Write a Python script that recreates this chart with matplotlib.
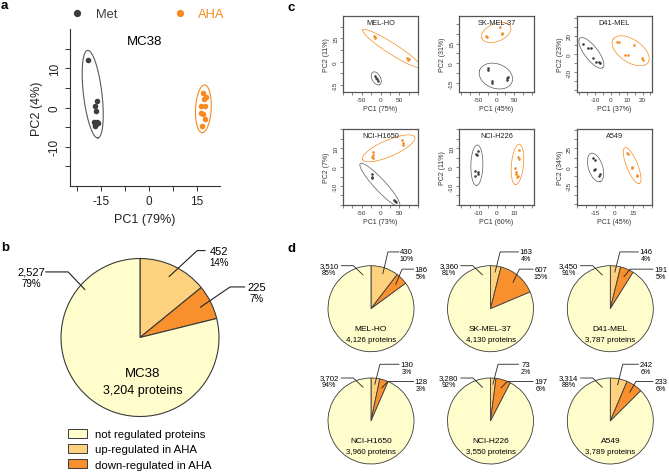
import numpy as np
import matplotlib
matplotlib.use('Agg')
import matplotlib.pyplot as plt
from matplotlib.patches import Patch
from matplotlib.lines import Line2D

plt.rcParams['font.family'] = ['Liberation Sans', 'DejaVu Sans']
plt.rcParams['axes.unicode_minus'] = False

# ------------------------------------------------------------------ data
# panel a : MC38 PCA
mc38_met_x = [-19.3, -16.3, -17.0, -16.5, -17.4, -16.2, -16.8, -16.0, -16.9]
mc38_met_y = [12.2, 1.6, 0.3, -1.0, -3.6, -3.7, -4.5, -4.0, -4.8]
mc38_aha_x = [16.9, 17.9, 17.2, 16.3, 17.5, 16.2, 16.9, 17.6, 16.5]
mc38_aha_y = [3.6, 2.8, 2.2, 0.5, 0.4, -1.3, -1.7, -3.0, -4.6]

# panel b : MC38 pie
mc38_counts = [2527, 452, 225]          # not, up, down
mc38_pcts = [79, 14, 7]

# panel c : PCA per cell line
melho_met_x = [-14, -12, -10, -8]
melho_met_y = [-9.5, -10.5, -11.3, -12.2]
melho_aha_x = [-18, -16, -15, 70, 73, 76]
melho_aha_y = [16.5, 15.0, 16.0, 2.4, 1.2, 2.0]

skmel_met_x = [-24.5, -24.0, -12.8, -12.0, 30.0, 30.7, 31.0]
skmel_met_y = [-4.9, -4.0, -13.4, -15.0, -11.3, -12.8, -10.5]
skmel_aha_x = [-29, -28, 11, 15, 16]
skmel_aha_y = [21, 20, 27.7, 23, 22]

d41_met_x = [-17.6, -14.4, -12.9, -11.5, -9.2, -7.7, -7.0]
d41_met_y = [11, 7, 6.5, -4.8, -8.9, -8.5, -9.5]
d41_aha_x = [4, 5, 14.7, 9, 10.6, 19.6, 20.6]
d41_aha_y = [13.3, 13.3, 10, -1.4, -1.4, -4.8, -6.9]

h1650_met_x = [-23, -22, -23, 36, 41, 38]
h1650_met_y = [-3.9, -5.1, -5.8, -17.2, -18.4, -17.8]
h1650_aha_x = [-21, -21, -22, -21, 57, 61, 61]
h1650_aha_y = [7.7, 6.4, 5.5, 4.9, 14.4, 12.6, 11.5]

h226_met_x = [-10.5, -11.0, -11.5, -11.8, -10.6, -11.8, -10.2]
h226_met_y = [8.5, 6.4, 7.0, -2.1, -3.5, -4.8, -2.5]
h226_aha_x = [12.8, 12.3, 12.8, 10.6, 11.0, 10.8, 11.4, 11.8]
h226_aha_y = [9.0, 5.3, 4.0, -0.4, -2.4, -3.8, -5.2, -4.5]

a549_met_x = [-17.2, -15.3, -16.7, -15.5, -11.9, -12.3]
a549_met_y = [12.3, 9.0, -4.5, -3.0, -10.0, -12.3]
a549_aha_x = [9.8, 10.8, 13.7, 14.3, 17.7, 18.2]
a549_aha_y = [18.2, 18.0, -0.9, -0.2, -11.4, -12.5]

cell_lines = ['MEL-HO', 'SK-MEL-37', 'D41-MEL', 'NCI-H1650', 'NCI-H226', 'A549']
pc1_var = [75, 45, 37, 73, 60, 45]
pc2_var = [11, 31, 23, 7, 11, 34]

# panel d : pies per cell line
not_regulated = [3510, 3360, 3450, 3702, 3280, 3314]
up_regulated = [430, 163, 146, 130, 73, 242]
down_regulated = [186, 607, 191, 128, 197, 233]
not_pct = [85, 81, 91, 94, 92, 88]
up_pct = [10, 4, 4, 3, 2, 6]
down_pct = [5, 15, 5, 3, 6, 6]

# axis ranges & ticks for c panels
c_xlims = [(-100, 100), (-105, 105), (-21.5, 26), (-100, 100), (-21, 21), (-30, 30)]
c_ylims = [(-19.5, 29.5), (-22, 36), (-42, 42), (-20, 20), (-20, 20), (-51, 51)]
c_xticks_lab = [[-50, 0, 50], [-50, 0, 50], [-10, 0, 10, 20], [-50, 0, 50], [-10, 0, 10], [-15, 0, 15]]
c_xticks_step = [25, 25, 5, 25, 5, 7.5]
c_yticks_lab = [[-15, 0, 15], [-15, 0, 15], [-20, 0, 20], [-10, 0, 10], [-10, 0, 10], [-25, 0, 25]]
c_yticks_step = [7.5, 7.5, 10, 5, 5, 12.5]

# ------------------------------------------------------------------ style
W, H = 669, 477
fig = plt.figure(figsize=(W / 100, H / 100), dpi=100)

MET_COLOR = '#3d3d3d'
MET_ELL = '#5a5a5a'
AHA_COLOR = '#f7891f'
PIE_NOT, PIE_UP, PIE_DOWN = '#fffdcc', '#fdd17e', '#f7902d'
EDGE = '#3a3a3a'
AX_COL = '#333333'


def box(l, t, w, h):
    return [l / W, 1 - (t + h) / H, w / W, h / H]


def mvee(P, tol=1e-6):
    N, d = P.shape
    Q = np.vstack([P.T, np.ones(N)])
    u = np.ones(N) / N
    err = 1.0
    it = 0
    while err > tol and it < 5000:
        X = Q @ np.diag(u) @ Q.T
        M = np.einsum('ij,ji->i', Q.T @ np.linalg.inv(X), Q)
        j = np.argmax(M)
        mx = M[j]
        step = (mx - d - 1) / ((d + 1) * (mx - 1))
        nu = (1 - step) * u
        nu[j] += step
        err = np.linalg.norm(nu - u)
        u = nu
        it += 1
    c = P.T @ u
    A = np.linalg.inv(P.T @ np.diag(u) @ P - np.outer(c, c)) / d
    return A, c


def enclosing_ellipse(x, y, xlim, ylim, size_px, pad_px, scale=1.05):
    wpx, hpx = size_px
    sx = wpx / (xlim[1] - xlim[0])
    sy = hpx / (ylim[1] - ylim[0])
    P = np.column_stack([np.asarray(x, float) * sx, np.asarray(y, float) * sy])
    A, c = mvee(P)
    vals, vecs = np.linalg.eigh(A)
    radii = scale / np.sqrt(vals) + pad_px
    t = np.linspace(0, 2 * np.pi, 200)
    pts = c[:, None] + vecs @ (radii[:, None] * np.vstack([np.cos(t), np.sin(t)]))
    return pts[0] / sx, pts[1] / sy


# ------------------------------------------------------------------ panel a
ax_px = (150, 157)
axa = fig.add_axes(box(70, 30, *ax_px))
xlim_a, ylim_a = (-24.8, 22.3), (-20, 20)
axa.scatter(mc38_met_x, mc38_met_y, s=16, color=MET_COLOR, lw=0, zorder=3)
axa.scatter(mc38_aha_x, mc38_aha_y, s=16, color=AHA_COLOR, lw=0, zorder=3)
ex, ey = enclosing_ellipse(mc38_met_x, mc38_met_y, xlim_a, ylim_a, ax_px, 5.5)
axa.plot(ex, ey, color=MET_ELL, lw=0.8)
ex, ey = enclosing_ellipse(mc38_aha_x, mc38_aha_y, xlim_a, ylim_a, ax_px, 5.0)
axa.plot(ex, ey, color=AHA_COLOR, lw=0.8)
axa.set_xlim(xlim_a)
axa.set_ylim(ylim_a)
axa.set_xticks([-15, 0, 15])
axa.set_xticks([-22.5, -7.5, 7.5], minor=True)
axa.set_yticks([-10, 0, 10])
axa.set_yticks([-15, -5, 5, 15], minor=True)
for s in ['top', 'right']:
    axa.spines[s].set_visible(False)
for s in ['left', 'bottom']:
    axa.spines[s].set_color(AX_COL)
    axa.spines[s].set_linewidth(0.8)
axa.tick_params(which='both', direction='out', length=3.5, width=0.7, color=AX_COL,
                labelsize=8.5, pad=3, labelcolor='#222222')
axa.tick_params(axis='y', labelrotation=90)
for t in axa.get_yticklabels():
    t.set_va('center')
axa.set_xlabel('PC1 (79%)', fontsize=9, labelpad=4, color='#222222')
axa.set_ylabel('PC2 (4%)', fontsize=9, labelpad=4, color='#222222')
axa.text(0.5, 0.925, 'MC38', transform=axa.transAxes, ha='center', va='center', fontsize=9.5)

leg = fig.legend(handles=[Line2D([], [], marker='o', ls='', color=MET_COLOR, ms=4.2, label='Met'),
                          Line2D([], [], marker='o', ls='', color=AHA_COLOR, ms=4.2, label='AHA')],
                 ncol=2, loc='center left', bbox_to_anchor=(71 / W, 1 - 15 / H), frameon=False,
                 fontsize=9.3, handlelength=1.0, handletextpad=0.9, columnspacing=4.4,
                 borderpad=0, borderaxespad=0)
leg.get_texts()[0].set_color(MET_COLOR)
leg.get_texts()[1].set_color(AHA_COLOR)


# ------------------------------------------------------------------ pies
LAYOUT_B = dict(not_ang=139, not_r=0.92, not_elbow=(-0.91, 0.83), not_end=-1.2, not_tx=-1.38,
                up_r=0.85, up_dx=0.36, up_y=1.1, up_end=0.83, up_tx=1.0,
                down_r=0.85, down_dx=0.38, down_y=0.64, down_end=1.33, down_tx=1.48,
                pct_dy=0.14, name_xy=(0.03, -0.45), tot_xy=(0.03, -0.66))
LAYOUT_D = dict(not_ang=103, not_r=0.8, not_elbow=(-0.41, 1.0), not_end=-0.7, not_tx=-0.97,
                up_r=0.85, up_dx=0.12, up_y=1.32, up_end=0.66, up_tx=0.83,
                down_r=0.8, down_dx=0.15, down_y=0.92, down_end=1.0, down_tx=1.17,
                pct_dy=0.16, name_xy=(0.0, -0.46), tot_xy=(0.0, -0.71))


def draw_pie(ax, counts, pcts, name, lay, fs_num, fs_pct, fs_name, lw, llw):
    n_not, n_up, n_down = counts
    vals = [n_up, n_down, n_not]
    wedges, _ = ax.pie(vals, colors=[PIE_UP, PIE_DOWN, PIE_NOT], startangle=90,
                       counterclock=False, radius=1,
                       wedgeprops=dict(edgecolor=EDGE, linewidth=lw))
    for w in wedges:
        w.set_clip_on(False)
    ax.set_xlim(-1, 1)
    ax.set_ylim(-1, 1)
    frac = np.array(vals, float) / sum(vals)
    starts = 90 - 360 * np.concatenate([[0], np.cumsum(frac)[:-1]])
    mids = np.radians(starts - 180 * frac)
    kw = dict(color='#222222', lw=llw, clip_on=False, solid_capstyle='butt')

    # not regulated (left)
    a = np.radians(lay['not_ang'])
    ax0, ay0 = lay['not_r'] * np.cos(a), lay['not_r'] * np.sin(a)
    exx, eyy = lay['not_elbow']
    ax.plot([ax0, exx, lay['not_end']], [ay0, eyy, eyy], **kw)
    ax.text(lay['not_tx'], eyy, f'{n_not:,}', ha='center', va='center', fontsize=fs_num)
    ax.text(lay['not_tx'], eyy - lay['pct_dy'], f'{pcts[0]}%', ha='center', va='center',
            fontsize=fs_pct)

    # up regulated
    ax0, ay0 = lay['up_r'] * np.cos(mids[0]), lay['up_r'] * np.sin(mids[0])
    exx = ax0 + lay['up_dx']
    ax.plot([ax0, exx, lay['up_end']], [ay0, lay['up_y'], lay['up_y']], **kw)
    ax.text(lay['up_tx'], lay['up_y'], f'{n_up:,}', ha='center', va='center', fontsize=fs_num)
    ax.text(lay['up_tx'], lay['up_y'] - lay['pct_dy'], f'{pcts[1]}%', ha='center', va='center',
            fontsize=fs_pct)

    # down regulated
    ax0, ay0 = lay['down_r'] * np.cos(mids[1]), lay['down_r'] * np.sin(mids[1])
    exx = ax0 + lay['down_dx']
    ax.plot([ax0, exx, lay['down_end']], [ay0, lay['down_y'], lay['down_y']], **kw)
    ax.text(lay['down_tx'], lay['down_y'], f'{n_down:,}', ha='center', va='center',
            fontsize=fs_num)
    ax.text(lay['down_tx'], lay['down_y'] - lay['pct_dy'], f'{pcts[2]}%', ha='center',
            va='center', fontsize=fs_pct)

    total = n_not + n_up + n_down
    ax.text(*lay['name_xy'], name, ha='center', va='center', fontsize=fs_name)
    ax.text(*lay['tot_xy'], f'{total:,} proteins', ha='center', va='center', fontsize=fs_name * 0.95)


# panel b
Rb = 79
axb = fig.add_axes(box(140 - Rb, 338.5 - Rb, 2 * Rb, 2 * Rb))
draw_pie(axb, mc38_counts, mc38_pcts, 'MC38', LAYOUT_B, 8, 7, 9.5, 0.8, 0.8)

fig.legend(handles=[Patch(fc=PIE_NOT, ec=EDGE, lw=0.7, label='not regulated proteins'),
                    Patch(fc=PIE_UP, ec=EDGE, lw=0.7, label='up-regulated in AHA'),
                    Patch(fc=PIE_DOWN, ec=EDGE, lw=0.7, label='down-regulated in AHA')],
           loc='upper left', bbox_to_anchor=(68 / W, 1 - 430 / H), frameon=False, fontsize=8.2,
           handlelength=1.7, handleheight=0.8, handletextpad=0.7, labelspacing=0.42,
           borderpad=0, borderaxespad=0)

# panel d
Rd = 43
d_cx = [371, 490.5, 610.3]
d_cy = [309.7, 422]
for i, name in enumerate(cell_lines):
    cx, cy = d_cx[i % 3], d_cy[i // 3]
    axd = fig.add_axes(box(cx - Rd, cy - Rd, 2 * Rd, 2 * Rd))
    draw_pie(axd, (not_regulated[i], up_regulated[i], down_regulated[i]),
             (not_pct[i], up_pct[i], down_pct[i]), name, LAYOUT_D, 5.6, 5.1, 6.0, 0.6, 0.6)

# ------------------------------------------------------------------ panel c
pca_sets = [
    (melho_met_x, melho_met_y, melho_aha_x, melho_aha_y),
    (skmel_met_x, skmel_met_y, skmel_aha_x, skmel_aha_y),
    (d41_met_x, d41_met_y, d41_aha_x, d41_aha_y),
    (h1650_met_x, h1650_met_y, h1650_aha_x, h1650_aha_y),
    (h226_met_x, h226_met_y, h226_aha_x, h226_aha_y),
    (a549_met_x, a549_met_y, a549_aha_x, a549_aha_y),
]
c_left = [343, 459, 577]
c_top = [17, 130]
c_size = (75, 76)


def fmt(v):
    return str(int(v)) if float(v).is_integer() else str(v)


for i, name in enumerate(cell_lines):
    ax = fig.add_axes(box(c_left[i % 3], c_top[i // 3], *c_size))
    mx, my, axx, ayy = pca_sets[i]
    xl, yl = c_xlims[i], c_ylims[i]
    ax.scatter(mx, my, s=3.5, color=MET_COLOR, lw=0, zorder=3)
    ax.scatter(axx, ayy, s=3.5, color=AHA_COLOR, lw=0, zorder=3)
    ex, ey = enclosing_ellipse(mx, my, xl, yl, c_size, 4.2)
    ax.plot(ex, ey, color=MET_ELL, lw=0.5)
    ex, ey = enclosing_ellipse(axx, ayy, xl, yl, c_size, 4.2)
    ax.plot(ex, ey, color=AHA_COLOR, lw=0.5)
    ax.set_xlim(xl)
    ax.set_ylim(yl)
    xs = c_xticks_step[i]
    xt = np.arange(np.ceil(xl[0] / xs) * xs, xl[1] + 1e-9, xs)
    ax.set_xticks(xt)
    ax.set_xticklabels([fmt(v) if v in c_xticks_lab[i] else '' for v in xt])
    ys = c_yticks_step[i]
    yt = np.arange(np.ceil(yl[0] / ys) * ys, yl[1] + 1e-9, ys)
    ax.set_yticks(yt)
    ax.set_yticklabels([fmt(v) if v in c_yticks_lab[i] else '' for v in yt])
    for s in ax.spines.values():
        s.set_color('#555555')
        s.set_linewidth(0.9)
    ax.tick_params(which='both', direction='out', length=2, width=0.5, color='#555555',
                   labelsize=4.6, pad=1.5, labelcolor='#333333')
    ax.tick_params(axis='y', labelrotation=90)
    for t in ax.get_yticklabels():
        t.set_va('center')
    ax.set_xlabel(f'PC1 ({pc1_var[i]}%)', fontsize=5, labelpad=2, color='#333333')
    ax.set_ylabel(f'PC2 ({pc2_var[i]}%)', fontsize=5, labelpad=2, color='#333333')
    ax.text(0.5, 0.92, name, transform=ax.transAxes, ha='center', va='center', fontsize=5.3,
            color='#222222')

# ------------------------------------------------------------------ panel letters
for lab, x, y in [('a', 4, 6), ('b', 5, 248), ('c', 291, 8), ('d', 291, 249)]:
    fig.text(x / W, 1 - y / H, lab, fontsize=9.5, fontweight='bold', ha='center', va='center')

fig.savefig('out.png', dpi=100)
